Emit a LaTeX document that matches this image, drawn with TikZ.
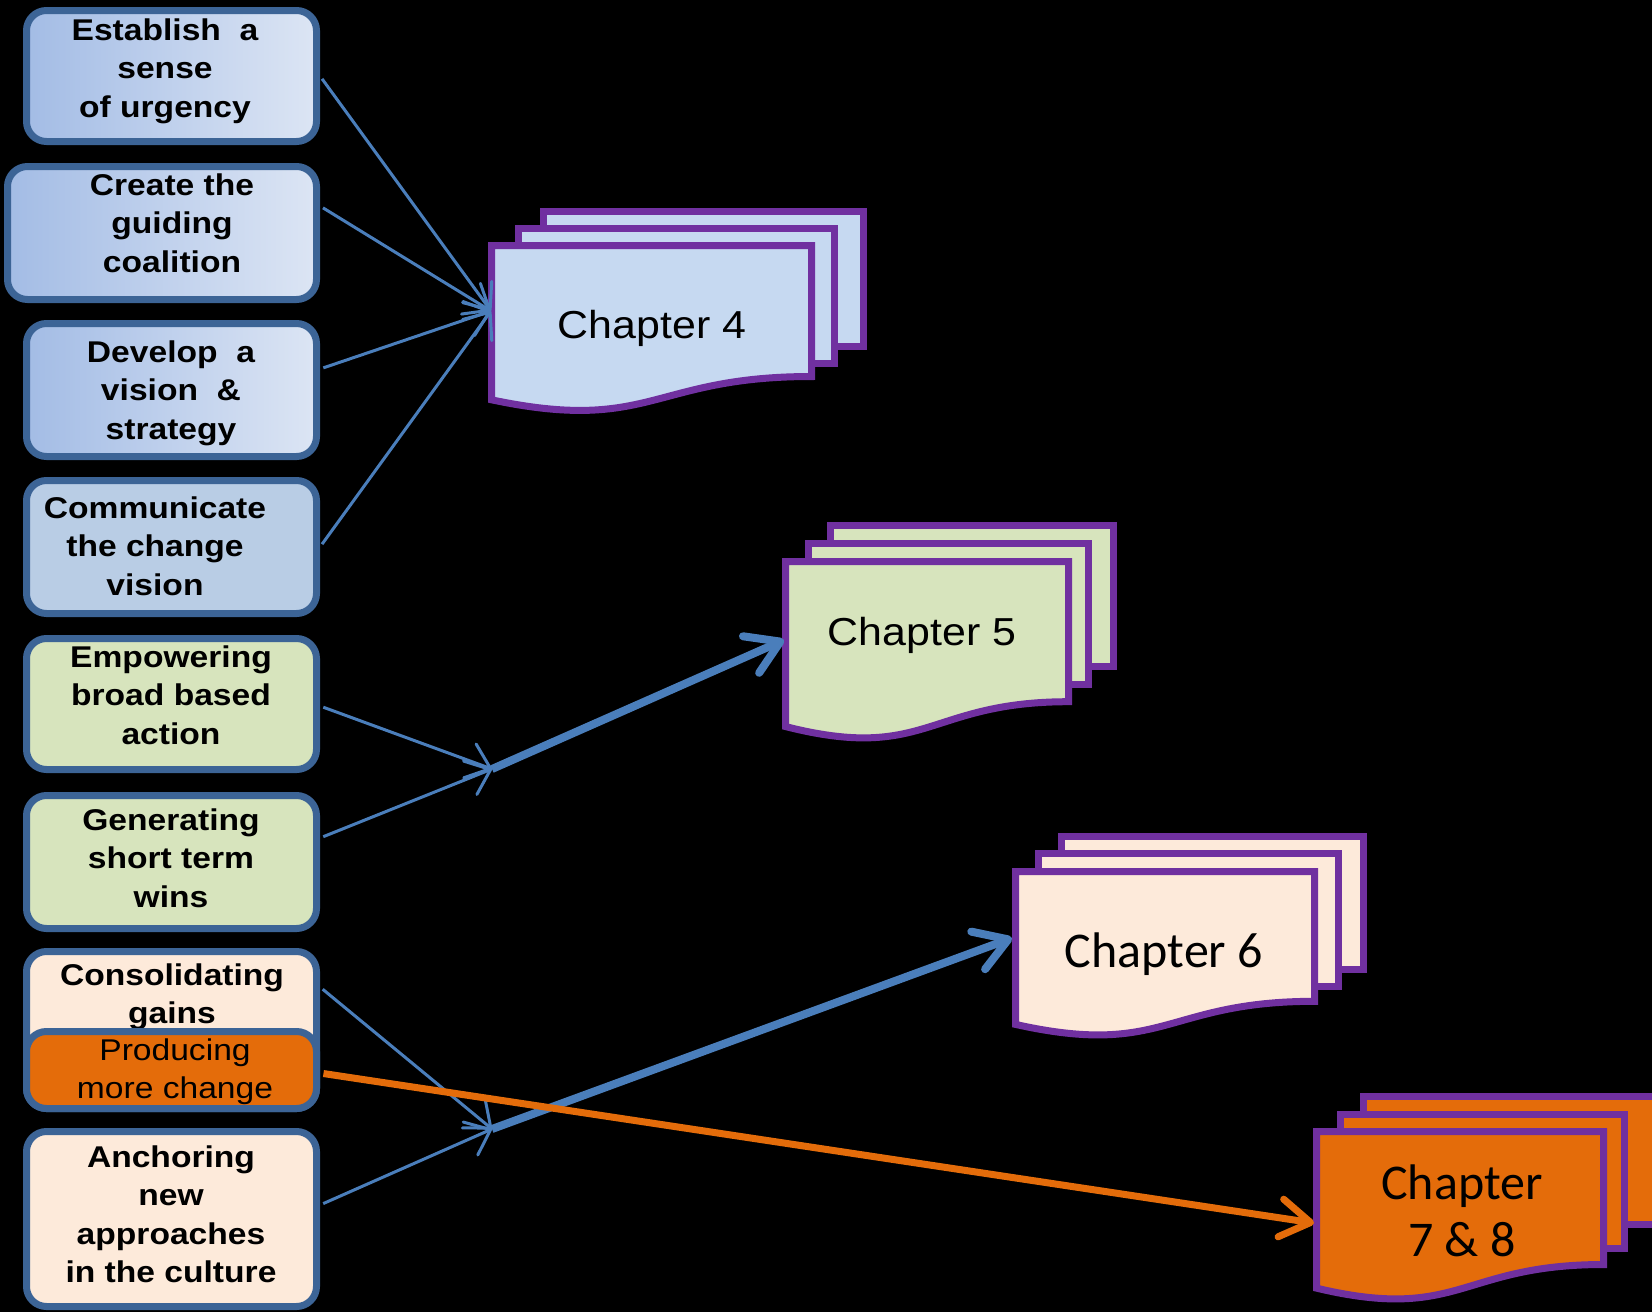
\documentclass[tikz,border=0pt]{standalone}
\usepackage{fontspec}
\usetikzlibrary{arrows.meta}
\newfontfamily\boxfont[FakeStretch=1.12]{Liberation Sans}
\newfontfamily\chapfont[FakeStretch=1.1]{Liberation Sans}
\newfontfamily\calfont{Carlito}
\definecolor{boxedge}{HTML}{3C6496}
\definecolor{blueA}{HTML}{A3BCE5}
\definecolor{blueB}{HTML}{DCE5F4}
\definecolor{blueC}{HTML}{B9CDE5}
\definecolor{greenF}{HTML}{D7E4BD}
\definecolor{peachF}{HTML}{FDEADA}
\definecolor{orangeF}{HTML}{E46C0A}
\definecolor{purpleE}{HTML}{7030A0}
\definecolor{chfourF}{HTML}{C6D9F1}
\definecolor{arrowB}{HTML}{4A7EBB}
\tikzset{
  stepbox/.style={draw=boxedge, line width=7pt, rounded corners=20pt, minimum width=290pt, inner sep=0pt},
  boxtext/.style={anchor=north, inner sep=0pt, align=center, text=black,
    font=\boxfont\bfseries\fontsize{30}{38.5}\selectfont},
  boxtextreg/.style={anchor=north, inner sep=0pt, align=center, text=black,
    font=\boxfont\fontsize{30}{38.5}\selectfont},
  pagestyle/.style={draw=purpleE, line width=7pt, line join=miter},
  thinarrow/.style={draw=arrowB, line width=3pt, shorten <=3.5pt,
    -{Straight Barb[length=22pt,width=36pt,round]}},
  thickarrow/.style={draw=arrowB, line width=8pt,
    -{Straight Barb[length=32pt,width=40pt,round]}},
  orangearrow/.style={draw=orangeF, line width=7pt, shorten <=3.5pt,
    -{Straight Barb[length=30pt,width=38pt,round]}},
  chaparial/.style={inner sep=0pt, text=black, font=\chapfont\fontsize{39}{46}\selectfont},
  chapcal/.style={inner sep=0pt, text=black, align=center, font=\calfont\fontsize{50}{57}\selectfont}
}
% outer coords: x1 y1 x2 y2 fill
\newcommand\pagerect[5]{\draw[pagestyle, fill=#5] ({#1+3.5},{#2+3.5}) rectangle ({#3-3.5},{#4-3.5});}
% outer coords: x1 top x2 H fill
\newcommand\frontpage[5]{%
  \pgfmathsetmacro\fxa{#1+3.5}\pgfmathsetmacro\fxb{#3-3.5}\pgfmathsetmacro\fya{#2+3.5}%
  \pgfmathsetmacro\fyr{#2+0.8*#4-3.5}\pgfmathsetmacro\fyl{#2+0.935*#4-3.5}%
  \pgfmathsetmacro\fxm{(#1+#3)/2}\pgfmathsetmacro\fcb{#2+1.13*#4-3.5}%
  \draw[pagestyle, fill=#5] (\fxa,\fya) -- (\fxb,\fya) -- (\fxb,\fyr)
    .. controls (\fxm,\fyr) and (\fxm,\fcb) .. (\fxa,\fyl) -- cycle;}
\begin{document}
\begin{tikzpicture}[x=1pt,y=-1pt]
\fill[black] (0,0) rectangle (1652,1312);
\useasboundingbox (0,0) rectangle (1652,1312);
\clip (0,0) rectangle (1652,1312);

% Chapter 4
\pagerect{540}{208}{867}{350}{chfourF}
\pagerect{515}{225}{838}{367}{chfourF}
\frontpage{488}{242}{815}{172.5}{chfourF}
\node[chaparial, anchor=base] (ch4) at (652,338) {Chapter 4};
% Chapter 5
\pagerect{827}{522}{1117}{670}{greenF}
\pagerect{805}{540}{1092}{688}{greenF}
\frontpage{782}{558}{1072}{184}{greenF}
\node[chaparial, anchor=base] (ch5) at (922,645) {Chapter 5};
% Chapter 6
\pagerect{1058}{833}{1367}{973}{peachF}
\pagerect{1035}{850}{1342}{990}{peachF}
\frontpage{1012}{868}{1318}{171}{peachF}
\node[chapcal, anchor=base] (ch6) at (1164,967) {Chapter 6};
% Chapter 7 & 8
\pagerect{1360}{1093}{1668}{1228}{orangeF}
\pagerect{1337}{1111}{1628}{1252}{orangeF}
\frontpage{1313}{1128}{1607}{175}{orangeF}
\node[chapcal, anchor=north] (ch78) at (1462,1165) {Chapter\\7 \& 8};

% left boxes
\node[stepbox, left color=blueA, right color=blueB, minimum height=131pt] (b1) at (171.5,76) {};
\node[boxtext] (t1) at (165,18.5) {Establish\ \ a\\sense\\of urgency};
\node[stepbox, left color=blueA, right color=blueB, minimum width=309pt, minimum height=133pt] (b2) at (162,233) {};
\node[boxtext] (t2) at (172,173.5) {Create the\\guiding\\coalition};
\node[stepbox, left color=blueA, right color=blueB, minimum height=133pt] (b3) at (171.5,390) {};
\node[boxtext] (t3) at (171,340.5) {Develop\ \ a\\vision\ \ \&\\strategy};
\node[stepbox, fill=blueC, minimum height=133pt] (b4) at (171.5,547) {};
\node[boxtext] (t4) at (155,496.5) {Communicate\\the change\\vision};
\node[stepbox, fill=greenF, minimum height=131pt] (b5) at (171.5,704) {};
\node[boxtext] (t5) at (171,645.5) {Empowering\\broad based\\action};
\node[stepbox, fill=greenF, minimum height=133pt] (b6) at (171.5,862) {};
\node[boxtext] (t6) at (171,808.5) {Generating\\short term\\wins};
\node[stepbox, fill=peachF, minimum height=157pt] (b7) at (171.5,1030) {};
\node[boxtext] (t7) at (172,963.5) {Consolidating\\gains};
\node[stepbox, fill=orangeF, minimum height=77pt] (prod) at (171.5,1070) {};
\node[boxtextreg] (tp) at (175,1038.5) {Producing\\more change};
\node[stepbox, fill=peachF, minimum height=175pt] (b8) at (171.5,1219) {};
\node[boxtext] (t8) at (171,1145.5) {Anchoring\\new\\approaches\\in the culture};

% connector ends
\coordinate (ch4in) at (491,311);
\coordinate (j5) at (492,769);
\coordinate (ch5in) at (784,640);
\coordinate (j6) at (492,1129);
\coordinate (ch6in) at (1012,938);
\coordinate (ch78in) at (1314,1223);

\draw[thinarrow] (b1.east) -- (ch4in);
\draw[thinarrow] ([yshift=27pt]b2.east) -- (ch4in);
\draw[thinarrow] ([yshift=21pt]b3.east) -- (ch4in);
\draw[thinarrow] (b4.east) -- (ch4in);
\draw[thinarrow] ([yshift=-2pt]b5.east) -- (j5);
\draw[thinarrow] ([yshift=24pt]b6.east) -- (j5);
\draw[thinarrow] ([yshift=43pt]b7.east) -- (j6);
\draw[thinarrow] ([yshift=14pt]b8.east) -- (j6);
\draw[thickarrow] (j5) -- (ch5in);
\draw[thickarrow] (j6) -- (ch6in);
\draw[orangearrow] ([yshift=-3pt]prod.east) -- (ch78in);
\end{tikzpicture}
\end{document}
